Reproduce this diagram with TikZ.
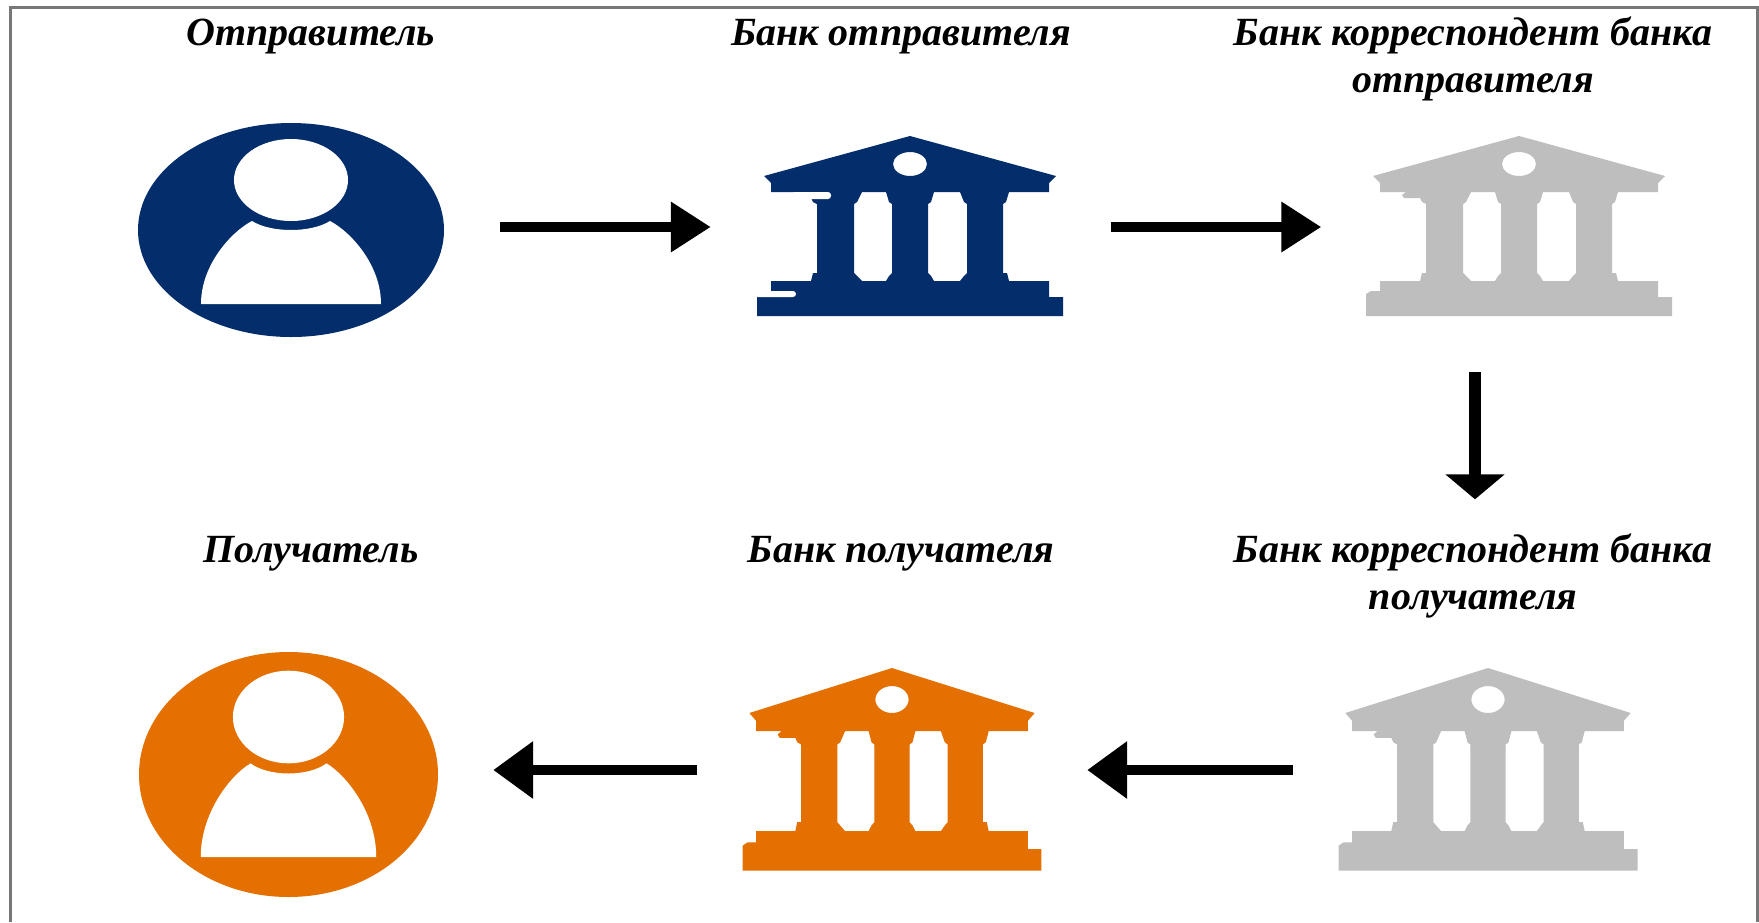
\documentclass[tikz,border=0pt]{standalone}
\usepackage{fontspec}
\setmainfont{Liberation Serif}
\usetikzlibrary{arrows.meta, shapes.geometric}
\definecolor{navy}{HTML}{032D6B}
\definecolor{amber}{HTML}{E37000}
\definecolor{silver}{HTML}{BEBEBE}
\definecolor{framegray}{HTML}{777777}
\tikzset{
    title/.style={anchor=base, align=center, font=\fontsize{40}{47}\selectfont\bfseries\itshape},
    flow/.style={line width=10.5pt, -{Triangle[length=40pt,width=#1]}},
    downflow/.style={line width=12.5pt, -{Triangle[length=25pt,width=58pt]}},
    personbox/.style={ellipse, inner sep=0pt},
    bankbox/.style={rectangle, inner sep=0pt},
}
% #1 colour, #2 centre x, #3 apex y, #4 x scale, #5 y scale
\newcommand{\bankicon}[5]{
    \begin{scope}[shift={(#2, #3)}, xscale=#4, yscale=#5]
        \fill[#1, even odd rule]
            (0, 0) -- (146, 40) -- (139, 47) -- (139, 56) -- (99, 56) -- (96, 66) -- (93, 68) -- (93, 137) -- (97, 137) -- (99, 145)
            -- (139, 145) -- (139, 161) -- (153, 161) -- (153, 180) -- (-153, 180) -- (-153, 158) -- (-148, 155) -- (-139, 155)
            -- (-139, 145) -- (-99, 145) -- (-97, 137) -- (-93, 137) -- (-93, 68) -- (-97, 66) -- (-99, 62) -- (-115, 62)
            -- (-117, 59) -- (-113, 56) -- (-139, 56) -- (-139, 47) -- (-146, 40) -- cycle
            (-48, 56) -- (-24, 56) -- (-21, 66) -- (-18, 68) -- (-18, 137) -- (-21, 140) -- (-24, 145) -- (-48, 145) -- (-53, 140) -- (-56, 137) -- (-56, 68) -- (-53, 66) -- cycle
            (24, 56) -- (50, 56) -- (54, 66) -- (57, 68) -- (57, 137) -- (54, 140) -- (50, 145) -- (24, 145) -- (21, 140) -- (18, 137) -- (18, 68) -- (21, 66) -- cycle
            (0, 28) ellipse (17 and 12);
    \end{scope}
}
% #1 head centre x, #2 head centre y, #3 x scale, #4 y scale
\newcommand{\personicon}[4]{
    \begin{scope}[shift={(#1, #2)}, xscale=#3, yscale=#4]
        \fill[white] (0, 0) ellipse (57 and 41);
        \fill[white] (-39, 41) .. controls (-20, 53) and (20, 53) .. (39, 41)
            .. controls (60, 52) and (90, 85) .. (90, 124) -- (-90, 124)
            .. controls (-90, 85) and (-60, 52) .. cycle;
    \end{scope}
}
\begin{document}
\begin{tikzpicture}[x=1pt, y=-1pt]
    \useasboundingbox (0, 0) rectangle (1759, 922);
    \fill[white] (0, 0) rectangle (1759, 922);
    \draw[framegray, line width=3pt] (10, 922) -- (10, 7) -- (1757, 7) -- (1757, 922);

    \path (311, 45)   node[title](t1) {Отправитель};
    \path (901, 45)   node[title](t2) {Банк отправителя};
    \path (1473, 92)  node[title](t3) {Банк корреспондент банка\\отправителя};
    \path (311, 562)  node[title](t4) {Получатель};
    \path (901, 562)  node[title](t5) {Банк получателя};
    \path (1473, 609) node[title](t6) {Банк корреспондент банка\\получателя};

    \path (291, 230)  node[personbox, fill=navy, minimum width=306pt, minimum height=214pt](sender) {};
    \path (910, 227)  node[bankbox, minimum width=305pt, minimum height=180pt](sendbank) {};
    \path (1519, 227) node[bankbox, minimum width=305pt, minimum height=180pt](sendcorr) {};
    \path (1488, 770) node[bankbox, minimum width=298pt, minimum height=203pt](recvcorr) {};
    \path (892, 770)  node[bankbox, minimum width=298pt, minimum height=203pt](recvbank) {};
    \path (288.5, 774.5) node[personbox, fill=amber, minimum width=299pt, minimum height=245pt](receiver) {};

    \personicon{291}{180}{1}{1}
    \personicon{288.5}{717}{0.975}{1.13}

    \bankicon{navy}{910}{136}{1}{1}
    \bankicon{silver}{1519}{136}{1}{1}
    \bankicon{silver}{1488}{668}{0.977}{1.125}
    \bankicon{amber}{892}{668}{0.977}{1.125}

    % white flaws of the first bank
    \fill[white, rounded corners=3pt] (792, 192) rectangle (831, 199);
    \fill[white, rounded corners=3pt] (755, 291) rectangle (796, 297);

    \draw[flow=48pt, shorten <=56pt, shorten >=46.5pt] (sender.east |- sendbank) -- (sendbank.west);
    \draw[flow=48pt, shorten <=48pt, shorten >=45pt] (sendbank.east) -- (sendcorr.west);
    \draw[downflow, shorten <=55pt, shorten >=169pt] ([xshift=-44pt]sendcorr.south) -- ([xshift=-13pt]recvcorr.north);
    \draw[flow=55pt, shorten <=46pt, shorten >=46pt] (recvcorr.west) -- (recvbank.east);
    \draw[flow=55pt, shorten <=46pt, shorten >=55pt] (recvbank.west) -- (receiver.east |- recvbank);
\end{tikzpicture}
\end{document}
